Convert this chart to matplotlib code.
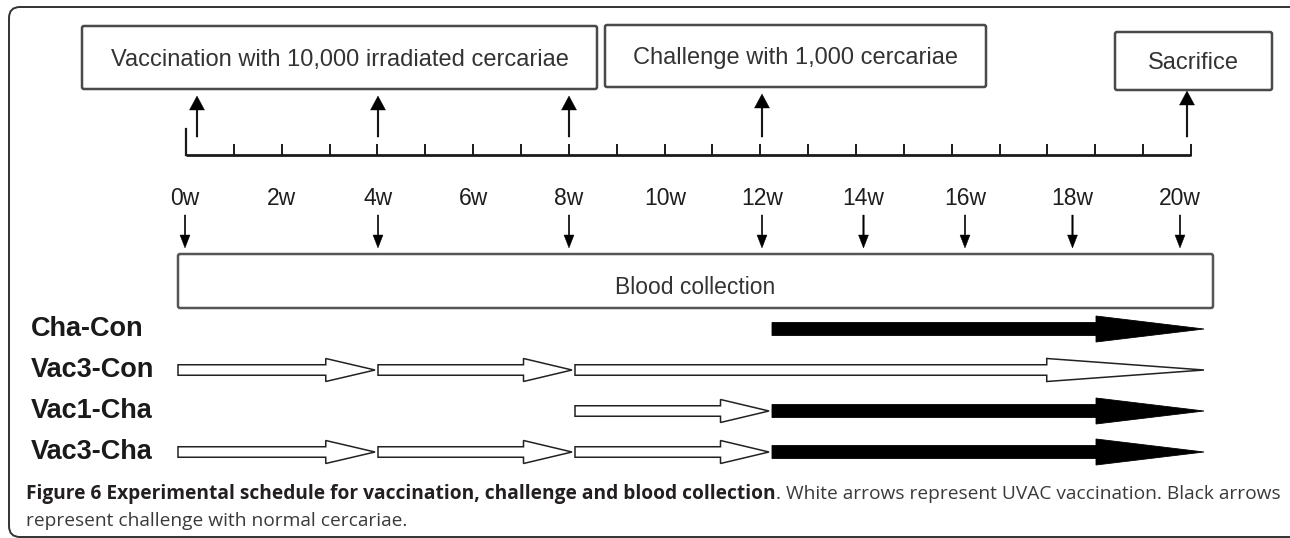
import numpy as np
import matplotlib
matplotlib.use("Agg")
import matplotlib.pyplot as plt
from matplotlib.patches import FancyArrow, FancyBboxPatch

# ---------------- data ----------------
WEEK_LABELS = [0, 2, 4, 6, 8, 10, 12, 14, 16, 18, 20]
BLOOD_WEEKS = [0, 4, 8, 12, 14, 16, 18, 20]
VACCINATION_WEEKS = [0, 4, 8]
CHALLENGE_WEEK = 12
SACRIFICE_WEEK = 20
END_WEEK = 20
GROUPS = ["Cha-Con", "Vac3-Con", "Vac1-Cha", "Vac3-Cha"]
GROUP_VACC = [[], [0, 4, 8], [8], [0, 4, 8]]
GROUP_CHALLENGE = [12, None, 12, 12]
BOX_TEXTS = ["Vaccination with 10,000 irradiated cercariae",
             "Challenge with 1,000 cercariae", "Sacrifice"]
BLOOD_TEXT = "Blood collection"
CAPTION_BOLD = "Figure 6 Experimental schedule for vaccination, challenge and blood collection"
CAPTION_REST = ". White arrows represent UVAC vaccination. Black arrows"
CAPTION_LINE2 = "represent challenge with normal cercariae."

# ---------------- layout / scales ----------------
W = 1290
H = 538
TL_W = [0, 4, 8, 12, 16, 20]
TL_X = [185, 378, 569, 762, 965, 1180]
LANE_W = [0, 12, 20]
LANE_X = [178, 769, 1204]


def wx(w):
    return float(np.interp(w, TL_W, TL_X))


def lx(w):
    return float(np.interp(w, LANE_W, LANE_X))


FONT = "Liberation Sans"
PX = 100 / 72.0  # px per pt

fig = plt.figure(figsize=(W / 100, H / 100), dpi=100)
ax = fig.add_axes([0, 0, 1, 1])
ax.set_xlim(0, W)
ax.set_ylim(H, 0)
ax.axis("off")


def ctext(x, yc, s, size, ha="center", **kw):
    return ax.text(x, yc + 0.716 * size * PX / 2, s, ha=ha, va="baseline",
                   fontsize=size, family=FONT, **kw)


# outer frame
ax.add_patch(FancyBboxPatch((9, 7), 1300, 530,
                            boxstyle="round,pad=0,rounding_size=11",
                            fc="none", ec="#333333", lw=1.4))

# top boxes
boxes = [(82, 26, 597, 89), (605, 25, 986, 87), (1115, 32, 1272, 90)]
for (x0, y0, x1, y1), txt in zip(boxes, BOX_TEXTS):
    ax.add_patch(FancyBboxPatch((x0, y0), x1 - x0, y1 - y0,
                                boxstyle="round,pad=0,rounding_size=2",
                                fc="white", ec="#4a4a4a", lw=1.8))
    ctext((x0 + x1) / 2, (y0 + y1) / 2, txt, 17, color="#333333")

# upward arrows to boxes
up_weeks = VACCINATION_WEEKS + [CHALLENGE_WEEK, SACRIFICE_WEEK]
up_box = [0, 0, 0, 1, 2]
nudge = {0: 12, 20: 7}
for w, bi in zip(up_weeks, up_box):
    x = wx(w) + nudge.get(w, 0)
    tip = boxes[bi][3] + (1 if bi == 2 else 7)
    base = 137
    ax.add_patch(FancyArrow(x, base, 0, tip - base, width=1.7, head_width=15,
                            head_length=14, length_includes_head=True,
                            fc="black", ec="black", lw=0.3))

# ruler
r0 = wx(0) + 1
r1 = wx(20) + 11
ry = 155
ax.plot([r0, r1], [ry, ry], color="#1a1a1a", lw=2.0, solid_capstyle="butt")
for tx in np.linspace(r0, r1, 22):
    ax.plot([tx, tx], [ry - 10, ry], color="#1a1a1a", lw=1.4)
ax.plot([r0, r0], [ry - 26, ry], color="#1a1a1a", lw=1.6)

# week labels
for w in WEEK_LABELS:
    ctext(wx(w), 197, f"{w}w", 16.5, color="#1e1e1e")

# blood collection arrows
for w in BLOOD_WEEKS:
    ax.add_patch(FancyArrow(wx(w), 215, 0, 33, width=1.4, head_width=10,
                            head_length=13, length_includes_head=True,
                            fc="black", ec="black", lw=0.3))

# blood collection box
bx0, bx1 = lx(0), lx(20) + 9
ax.add_patch(FancyBboxPatch((bx0, 254), bx1 - bx0, 54,
                            boxstyle="round,pad=0,rounding_size=2",
                            fc="white", ec="#555555", lw=1.8))
ctext((bx0 + bx1) / 2, 286, BLOOD_TEXT, 16.5, color="#333333")

# group rows
rows = np.linspace(329, 452, 4)
for i, g in enumerate(GROUPS):
    y = rows[i]
    ctext(31, y - 3, g, 19.5, ha="left", fontweight="bold", color="#1a1a1a")
    vac = GROUP_VACC[i]
    ch = GROUP_CHALLENGE[i]
    bounds = list(vac) + [ch if ch is not None else END_WEEK]
    segs = [(bounds[k], bounds[k + 1], "white") for k in range(len(vac))]
    if ch is not None:
        segs.append((ch, END_WEEK, "black"))
    for k, (a, b, col) in enumerate(segs):
        xs = lx(a) + (3 if (k > 0 or a > 0) else 0)
        xe = lx(b)
        L = xe - xs
        if col == "white":
            ax.add_patch(FancyArrow(xs, y, L, 0, width=10.5, head_width=23,
                                    head_length=0.25 * L,
                                    length_includes_head=True,
                                    fc="white", ec="#222222", lw=1.1))
        else:
            ax.add_patch(FancyArrow(xs, y, L, 0, width=13, head_width=26,
                                    head_length=0.25 * L,
                                    length_includes_head=True,
                                    fc="black", ec="black", lw=0.6))

# caption (line 1 fitted to the text width of the reference)
fig.canvas.draw()
renderer = fig.canvas.get_renderer()
t1 = ax.text(26, 499, CAPTION_BOLD, ha="left", va="baseline", fontsize=10,
             family="Open Sans", fontweight="bold", color="#231f20")
t2 = ax.text(0, 499, CAPTION_REST, ha="left", va="baseline", fontsize=10,
             family="Open Sans", color="#3a3a3a")
w_total = (t1.get_window_extent(renderer).width +
           t2.get_window_extent(renderer).width)
size = 10 * (1276 - 26) / w_total
t1.set_fontsize(size)
t2.set_fontsize(size)
fig.canvas.draw()
t2.set_x(t1.get_window_extent(renderer).x1)
ax.text(26, 526, CAPTION_LINE2, ha="left", va="baseline", fontsize=size,
        family="Open Sans", color="#3a3a3a")

fig.savefig("out.png", dpi=100)
